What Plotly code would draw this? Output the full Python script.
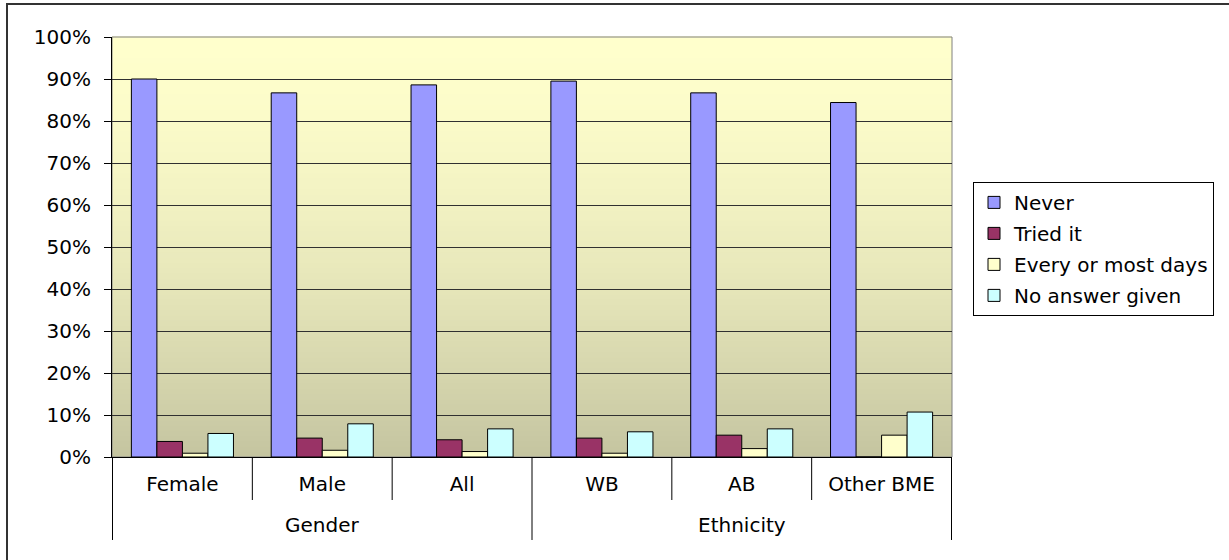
import plotly.graph_objects as go

groups = ["Gender", "Gender", "Gender", "Ethnicity", "Ethnicity", "Ethnicity"]
categories = ["Female", "Male", "All", "WB", "AB", "Other BME"]

never = [0.90, 0.867, 0.886, 0.895, 0.867, 0.844]
tried_it = [0.037, 0.045, 0.041, 0.045, 0.052, 0.0]
every_or_most = [0.009, 0.016, 0.013, 0.009, 0.020, 0.052]
no_answer = [0.056, 0.079, 0.067, 0.060, 0.067, 0.107]

series_names = ["Never", "Tried it", "Every or most days", "No answer given"]
series_values = [never, tried_it, every_or_most, no_answer]
series_colors = ["#9999FF", "#993366", "#FFFFCC", "#CCFFFF"]

y_ticks = [i / 10 for i in range(11)]

FONT = "DejaVu Sans"
FS = 20

fig = go.Figure()
for i, (name, vals, col) in enumerate(zip(series_names, series_values, series_colors)):
    fig.add_trace(go.Bar(
        x=categories, y=vals, name=name,
        marker=dict(color=col, line=dict(color="black", width=1)),
        legendgroup=str(i),
    ))

# gradient plot background (decoration)
n_bands = 80
shapes = []
top = (255, 255, 204)
bot = (196, 196, 160)
for k in range(n_bands):
    f0 = k / n_bands
    f1 = (k + 1) / n_bands
    fm = (f0 + f1) / 2
    t = (1 - fm) ** 1.6
    c = tuple(round(top[j] + (bot[j] - top[j]) * t) for j in range(3))
    shapes.append(dict(type="rect", xref="x domain", yref="y domain",
                       x0=0, x1=1, y0=f0, y1=f1 + 0.002, layer="below",
                       line=dict(width=0), fillcolor="rgb(%d,%d,%d)" % c))
# plot-area border
shapes.append(dict(type="rect", xref="x domain", yref="y domain", x0=0, x1=1, y0=0, y1=1,
                   line=dict(color="#808080", width=1), layer="below"))
# outer chart border
shapes.append(dict(type="rect", xref="paper", yref="paper",
                   x0=-0.125, x1=1.34, y0=-0.3, y1=1.0786,
                   line=dict(color="#333333", width=2), layer="above"))

# category separators and group dividers (derived from category / group indices)
n = len(categories)
group_bounds = [0]
for i in range(1, n):
    if groups[i] != groups[i - 1]:
        group_bounds.append(i)
group_bounds.append(n)
for i in range(n + 1):
    is_group = i in group_bounds
    shapes.append(dict(type="line", xref="x", yref="paper",
                       x0=i - 0.5, x1=i - 0.5, y0=0,
                       y1=-0.1976 if is_group else -0.1024,
                       line=dict(color="black", width=1)))

annotations = []
for a, b in zip(group_bounds[:-1], group_bounds[1:]):
    annotations.append(dict(text=groups[a], x=(a + b - 1) / 2, xref="x",
                            y=-0.163, yref="paper", yanchor="middle",
                            showarrow=False, font=dict(family=FONT, size=FS)))

fig.update_layout(
    width=1229, height=560,
    margin=dict(l=112, r=277, t=37, b=103),
    paper_bgcolor="white",
    plot_bgcolor="rgba(0,0,0,0)",
    barmode="group", bargap=0.27, bargroupgap=0,
    font=dict(family=FONT, size=FS, color="black"),
    shapes=shapes,
    annotations=annotations,
    legend=dict(
        x=1.025, y=0.655, xanchor="left", yanchor="top",
        bordercolor="black", borderwidth=1, bgcolor="white",
        font=dict(family=FONT, size=FS, color="black"),
        tracegroupgap=2, itemwidth=30,
    ),
    showlegend=True,
)

fig.update_yaxes(
    range=[0, 1], tickvals=y_ticks, tickformat=".0%",
    showgrid=True, gridcolor="#303030", gridwidth=1,
    ticks="outside", ticklen=7, tickcolor="black",
    showline=True, linecolor="black", linewidth=1,
    ticklabelstandoff=9, zeroline=False,
    tickfont=dict(family=FONT, size=FS),
)
fig.update_xaxes(
    type="category",
    showline=True, linecolor="black", linewidth=1,
    ticks="", ticklabelstandoff=9,
    showgrid=False,
    tickfont=dict(family=FONT, size=FS),
)

fig.write_html("out.html")
